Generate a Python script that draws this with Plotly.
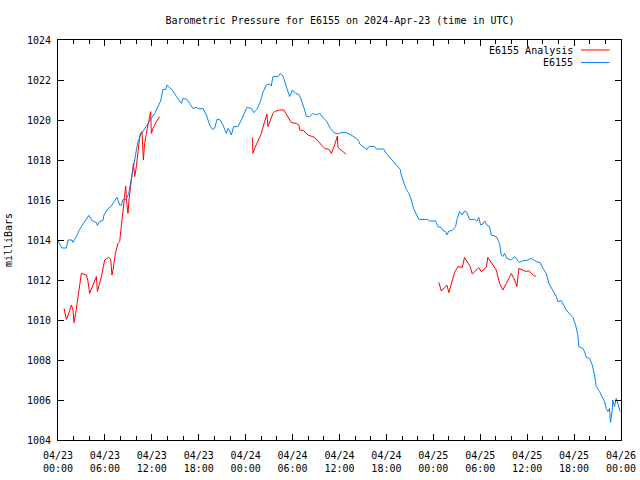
import datetime as dt
import plotly.graph_objects as go

BASE = dt.datetime(2024, 4, 23, 0, 0)

# Hours since 2024-04-23 00:00 UTC, pressure in millibars
obs_hours = [0, 0.51, 1.07, 1.28, 1.79, 1.92, 2.35, 2.77, 3.2, 3.63, 3.96, 4.35, 4.91, 5.04, 5.33, 5.75,
             5.88, 6.32, 6.83, 7.16, 7.54, 7.89, 8.11, 8.31, 8.74, 9.04, 9.29, 9.59, 9.81, 10.02, 10.23,
             10.57, 10.99, 11.43, 11.94, 12.36, 12.78, 13.13, 13.42, 13.77, 13.94, 14.28, 14.7, 15.14,
             15.56, 15.78, 15.98, 16.49, 16.84, 17.26, 17.69, 18.12, 18.54, 18.97, 19.4, 19.74, 20.03,
             20.33, 20.67, 21.09, 21.53, 21.73, 21.95, 22.17, 22.46, 23.01, 23.45, 23.87, 24.16, 24.72,
             25.06, 25.44, 25.88, 26.21, 26.64, 27.06, 27.28, 27.49, 28.13, 28.43, 28.77, 29.2, 29.62,
             29.97, 30.39, 30.81, 31.12, 31.54, 31.76, 32.18, 32.6, 33.04, 33.46, 33.88, 34.39, 34.83,
             35.29, 35.8, 36.23, 36.87, 37.29, 37.71, 38.15, 38.48, 38.57, 39.21, 39.5, 39.76, 40.49,
             40.7, 41.64, 41.98, 42.62, 43.05, 43.47, 43.77, 43.9, 44.2, 44.54, 44.87, 45.18, 45.47,
             45.82, 46.15, 47.3, 47.52, 48.29, 48.58, 49.02, 49.22, 49.57, 49.73, 49.99, 50.42, 50.84,
             51.06, 51.35, 51.7, 51.99, 52.29, 52.63, 53.27, 53.57, 53.82, 54.04, 54.33, 54.55, 54.84,
             55.19, 55.41, 56.05, 56.47, 56.69, 56.89, 57.11, 57.4, 57.97, 58.39, 59.03, 59.45, 59.88,
             60.52, 61.16, 61.67, 62.01, 62.44, 62.77, 63.08, 63.37, 63.72, 63.92, 64.36, 64.65, 65.0,
             65.42, 65.84, 66.19, 66.48, 66.61, 67.12, 67.34, 67.56, 67.98, 68.32, 68.62, 68.83, 69.26,
             69.6, 69.9, 70.11, 70.32, 70.53, 70.66, 70.88, 70.95, 71.17, 71.39, 71.59, 71.9]
obs_mb = [1013.95, 1013.6, 1013.6, 1014.0, 1014.0, 1013.88, 1014.17, 1014.53, 1014.8, 1015.03, 1015.23,
          1014.97, 1014.87, 1014.73, 1014.93, 1014.97, 1015.25, 1015.53, 1015.7, 1015.92, 1016.13,
          1015.75, 1015.73, 1016.03, 1016.03, 1016.33, 1016.83, 1017.42, 1018.0, 1018.5, 1018.92,
          1019.25, 1019.5, 1019.8, 1020.08, 1020.33, 1020.67, 1020.95, 1021.53, 1021.53, 1021.75,
          1021.63, 1021.47, 1021.17, 1020.97, 1020.83, 1021.08, 1021.03, 1020.83, 1020.58, 1020.63,
          1020.55, 1020.58, 1020.25, 1019.75, 1019.53, 1019.58, 1020.03, 1020.03, 1019.75, 1019.33,
          1019.58, 1019.47, 1019.25, 1019.67, 1019.67, 1020.0, 1020.42, 1020.63, 1020.58, 1020.37,
          1020.53, 1020.92, 1021.37, 1021.75, 1021.8, 1021.7, 1022.17, 1022.17, 1022.33, 1022.2,
          1021.67, 1021.17, 1021.5, 1021.33, 1021.28, 1021.0, 1020.5, 1020.17, 1020.17, 1020.33,
          1020.25, 1020.33, 1020.13, 1019.92, 1019.58, 1019.37, 1019.3, 1019.37, 1019.37, 1019.3,
          1019.2, 1019.08, 1018.92, 1018.8, 1018.63, 1018.53, 1018.67, 1018.67, 1018.55, 1018.55,
          1018.33, 1018.03, 1017.83, 1017.67, 1017.53, 1017.25, 1016.92, 1016.53, 1016.33, 1016.0,
          1015.58, 1015.25, 1015.03, 1015.03, 1014.95, 1014.95, 1014.67, 1014.62, 1014.47, 1014.42,
          1014.25, 1014.45, 1014.47, 1014.67, 1015.08, 1015.42, 1015.25, 1015.45, 1015.37, 1015.03,
          1015.03, 1014.95, 1015.13, 1014.75, 1014.8, 1014.95, 1014.75, 1014.67, 1014.25, 1014.17,
          1013.83, 1013.25, 1013.17, 1013.33, 1013.08, 1013.0, 1013.17, 1012.87, 1012.97, 1012.97,
          1013.08, 1012.92, 1012.87, 1012.58, 1012.33, 1011.83, 1011.63, 1011.42, 1011.17, 1010.92,
          1010.97, 1010.75, 1010.5, 1010.3, 1010.13, 1009.75, 1009.25, 1008.67, 1008.58, 1008.42,
          1008.13, 1008.08, 1007.75, 1007.25, 1006.67, 1006.42, 1006.17, 1005.92, 1005.58, 1005.42,
          1005.58, 1004.87, 1005.5, 1006.0, 1005.67, 1006.08, 1005.83, 1005.42]

ana1_hours = [0.77, 1.07, 1.37, 1.71, 1.92, 2.05, 2.26, 2.48, 2.65, 2.99, 3.63, 3.84, 4.05, 4.27, 4.6,
              4.91, 5.04, 5.2, 5.55, 5.97, 6.48, 6.74, 6.9, 7.03, 7.34, 7.67, 7.89, 8.02, 8.23, 8.31,
              8.53, 8.66, 8.74, 8.95, 9.08, 9.29, 9.46, 9.64, 9.81, 10.02, 10.23, 10.45, 10.57, 10.74,
              10.92, 11.08, 11.3, 11.51, 11.72, 11.85, 11.94, 12.15, 12.58, 13.0]
ana1_mb = [1010.58, 1010.03, 1010.33, 1010.75, 1010.5, 1009.87, 1010.33, 1011.0, 1011.5, 1012.33,
           1012.25, 1011.92, 1011.33, 1011.53, 1011.87, 1012.17, 1011.42, 1011.67, 1012.17, 1013.0,
           1013.13, 1013.03, 1012.25, 1012.5, 1013.33, 1013.83, 1013.92, 1014.42, 1015.17, 1015.67,
           1016.17, 1016.7, 1016.08, 1015.33, 1016.0, 1016.58, 1017.25, 1017.83, 1017.17, 1017.67,
           1018.5, 1019.17, 1019.33, 1019.42, 1018.0, 1018.83, 1019.33, 1019.75, 1020.33, 1020.42,
           1019.33, 1019.58, 1019.92, 1020.17]

ana2_hours = [24.85, 24.93, 25.15, 25.44, 25.79, 26.0, 26.3, 26.55, 26.72, 26.85, 27.06, 27.28, 27.49,
              27.7, 28.34, 28.89, 29.2, 29.53, 29.84, 30.48, 30.81, 30.9, 31.41, 31.96, 32.39, 32.82,
              33.11, 33.67, 34.1, 34.65, 34.96, 35.38, 35.73, 35.8, 36.23, 36.87]
ana2_mb = [1019.13, 1018.33, 1018.58, 1018.87, 1019.17, 1019.33, 1019.75, 1020.17, 1020.3, 1019.67,
           1019.92, 1020.17, 1020.33, 1020.42, 1020.5, 1020.5, 1020.3, 1020.03, 1019.87, 1019.83,
           1019.75, 1019.5, 1019.47, 1019.25, 1019.17, 1019.13, 1019.0, 1018.75, 1018.58, 1018.53,
           1018.33, 1018.75, 1019.2, 1018.63, 1018.5, 1018.28]

ana3_hours = [48.71, 49.02, 49.44, 49.73, 49.99, 50.29, 50.71, 51.14, 51.7, 51.99, 52.42, 52.72, 52.98,
              53.4, 53.82, 54.13, 54.55, 54.77, 54.97, 55.41, 55.7, 56.05, 56.47, 56.89, 57.33, 57.97,
              58.39, 58.69, 58.94, 59.37, 59.88, 60.21, 60.52, 60.94, 61.16]
ana3_mb = [1011.88, 1011.45, 1011.63, 1011.75, 1011.37, 1011.75, 1012.37, 1012.67, 1012.63, 1013.13,
           1012.83, 1012.67, 1012.3, 1012.47, 1012.62, 1012.42, 1012.58, 1012.63, 1013.13, 1012.88,
           1012.67, 1012.5, 1011.83, 1011.5, 1011.83, 1012.33, 1012.0, 1011.67, 1012.58, 1012.5,
           1012.42, 1012.47, 1012.33, 1012.2, 1012.2]

y_ticks = list(range(1004, 1025, 2))

RED = "#ff0000"
BLUE = "#0a84f0"
FONT = "DejaVu Sans Mono"

L, R, T, B = 58, 19, 40, 40
PW, PH = 640 - L - R, 480 - T - B


def to_time(hours):
    return [BASE + dt.timedelta(hours=h) for h in hours]


ana_x, ana_y = [], []
for hs, ps in [(ana1_hours, ana1_mb), (ana2_hours, ana2_mb), (ana3_hours, ana3_mb)]:
    if ana_x:
        ana_x.append(None)
        ana_y.append(None)
    ana_x += to_time(hs)
    ana_y += ps

fig = go.Figure()
fig.add_trace(go.Scatter(x=ana_x, y=ana_y, mode="lines", name="E6155 Analysis",
                         line=dict(color=RED, width=1), connectgaps=False, showlegend=False))
fig.add_trace(go.Scatter(x=to_time(obs_hours), y=obs_mb, mode="lines", name="E6155",
                         line=dict(color=BLUE, width=1), showlegend=False))

# gnuplot-style legend (text then line sample)
legend_rows = [("E6155 Analysis", RED), ("E6155", BLUE)]
for i, (label, col) in enumerate(legend_rows):
    ypx = 50 + i * 12.5
    fig.add_annotation(text=label, xref="paper", yref="paper",
                       x=(575 - L) / PW, y=(480 - B - ypx) / PH,
                       xanchor="right", yanchor="middle", showarrow=False,
                       font=dict(family=FONT, size=10, color="black"))
    fig.add_shape(type="line", xref="paper", yref="paper",
                  x0=(581 - L) / PW, x1=(609.5 - L) / PW,
                  y0=(480 - B - ypx) / PH, y1=(480 - B - ypx) / PH,
                  line=dict(color=col, width=1))

fig.update_layout(
    width=640, height=480,
    margin=dict(l=L, r=R, t=T, b=B, autoexpand=False),
    paper_bgcolor="white", plot_bgcolor="white",
    font=dict(family=FONT, size=10, color="black"),
    title=dict(text="Barometric Pressure for E6155 on 2024-Apr-23 (time in UTC)",
               x=340 / 640, xanchor="center", y=1 - 20 / 480, yanchor="middle",
               font=dict(family=FONT, size=10, color="black")),
    showlegend=False,
)
fig.update_xaxes(
    type="date", automargin=False,
    range=[BASE, BASE + dt.timedelta(days=3)],
    dtick=6 * 3600 * 1000, tick0=BASE,
    tickformat="%m/%d<br>%H:%M",
    ticks="inside", ticklen=6, tickcolor="black", tickwidth=1,
    ticklabelstandoff=6,
    minor=dict(dtick=2 * 3600 * 1000, ticks="inside", ticklen=4, tickcolor="black", showgrid=False),
    showline=True, linecolor="black", linewidth=1, mirror="ticks",
    showgrid=False, zeroline=False,
    tickfont=dict(family=FONT, size=10, color="black"),
)
fig.update_yaxes(
    automargin=False,
    range=[1004, 1024], tickvals=y_ticks, ticktext=[str(v) for v in y_ticks],
    ticks="inside", ticklen=6, tickcolor="black", tickwidth=1,
    ticklabelstandoff=4,
    showline=True, linecolor="black", linewidth=1, mirror="ticks",
    showgrid=False, zeroline=False,
    title=dict(text="milliBars", standoff=12, font=dict(family=FONT, size=10, color="black")),
    tickfont=dict(family=FONT, size=10, color="black"),
)

fig.write_html("out.html", config={"displayModeBar": False},
               post_script="document.body.style.margin='0';")
